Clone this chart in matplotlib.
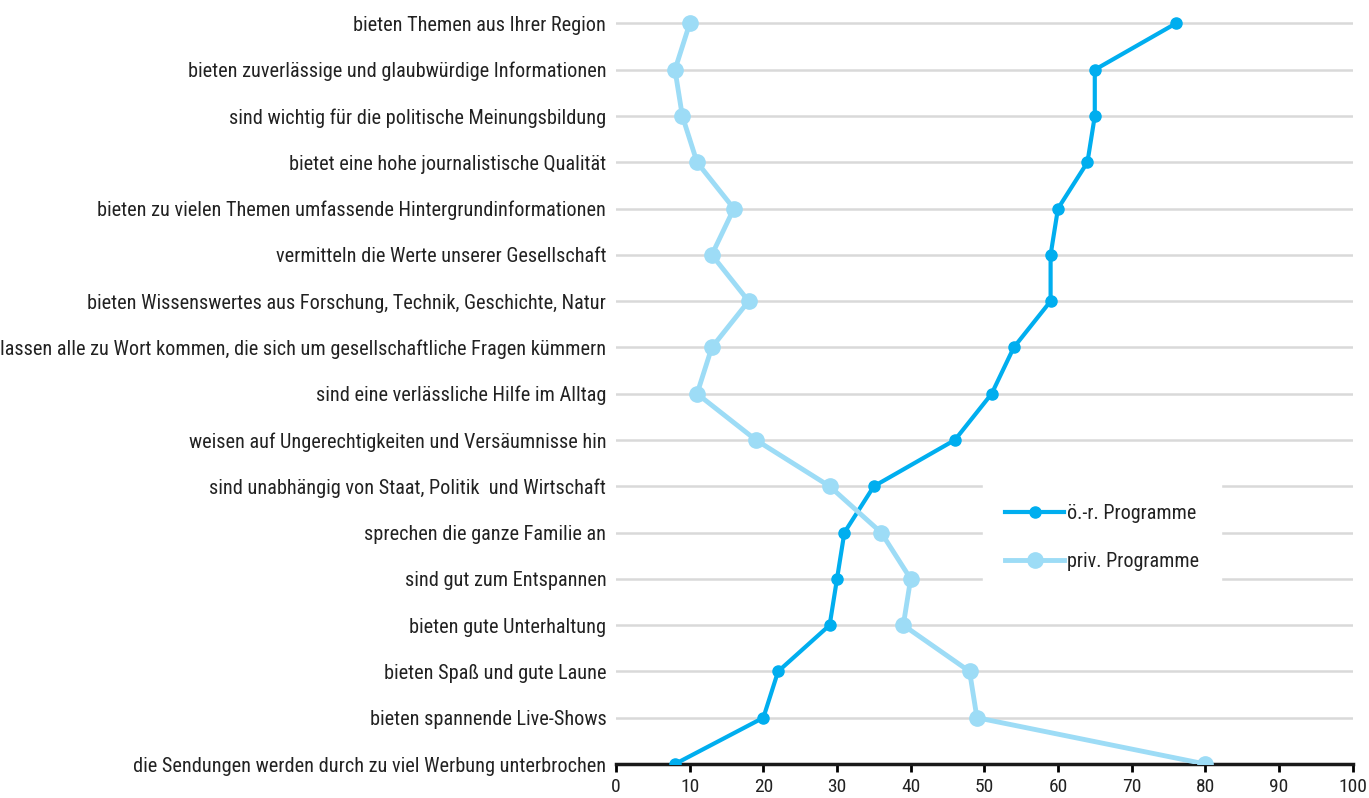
import matplotlib.pyplot as plt

plt.rcParams['font.family'] = ['Roboto Condensed', 'DejaVu Sans']

labels = [
    'bieten Themen aus Ihrer Region',
    'bieten zuverlässige und glaubwürdige Informationen',
    'sind wichtig für die politische Meinungsbildung',
    'bietet eine hohe journalistische Qualität',
    'bieten zu vielen Themen umfassende Hintergrundinformationen',
    'vermitteln die Werte unserer Gesellschaft',
    'bieten Wissenswertes aus Forschung, Technik, Geschichte, Natur',
    'lassen alle zu Wort kommen, die sich um gesellschaftliche Fragen kümmern',
    'sind eine verlässliche Hilfe im Alltag',
    'weisen auf Ungerechtigkeiten und Versäumnisse hin',
    'sind unabhängig von Staat, Politik  und Wirtschaft',
    'sprechen die ganze Familie an',
    'sind gut zum Entspannen',
    'bieten gute Unterhaltung',
    'bieten Spaß und gute Laune',
    'bieten spannende Live-Shows',
    'die Sendungen werden durch zu viel Werbung unterbrochen',
]
oer = [76, 65, 65, 64, 60, 59, 59, 54, 51, 46, 35, 31, 30, 29, 22, 20, 8]
priv = [10, 8, 9, 11, 16, 13, 18, 13, 11, 19, 29, 36, 40, 39, 48, 49, 80]

dark = '#00aeef'
light = '#9ddcf6'
txt = '#222222'

fig = plt.figure(figsize=(13.69, 7.98), dpi=100)
ax = fig.add_axes([0.45, 0.0426, 0.538, 0.957])

ypos = list(range(len(labels) - 1, -1, -1))

# light grey guide line for every statement
for y in ypos:
    ax.axhline(y, color='#d9d9d9', lw=1.8, zorder=0)

ax.plot(oer, ypos, color=dark, lw=3, marker='o', ms=8, zorder=3,
        label='ö.-r. Programme')
ax.plot(priv, ypos, color=light, lw=3.5, marker='o', ms=11, zorder=4,
        label='priv. Programme')

ax.set_xlim(0, 100)
ax.set_ylim(0, 16.5)
ax.set_xticks(range(0, 101, 10))
ax.set_yticks(ypos)
ax.set_yticklabels(labels)
ax.tick_params(axis='y', length=0, pad=7, labelsize=14.6, labelcolor=txt)
ax.tick_params(axis='x', length=6, width=2, pad=4, labelsize=14, labelcolor=txt)

for s in ['top', 'right', 'left']:
    ax.spines[s].set_visible(False)
ax.spines['bottom'].set_linewidth(2.5)
ax.spines['bottom'].set_color('#1a1a1a')
ax.spines['bottom'].set_zorder(2)

leg = ax.legend(loc='center', bbox_to_anchor=(0.66, 0.297), frameon=True,
                fancybox=False, handlelength=2.9, handletextpad=0.15,
                labelspacing=1.45, fontsize=14.5, borderpad=1.1,
                borderaxespad=0)
leg.get_frame().set_facecolor('white')
leg.get_frame().set_edgecolor('white')
leg.get_frame().set_alpha(1)
for t in leg.get_texts():
    t.set_color(txt)

fig.savefig('out.png', dpi=100)
